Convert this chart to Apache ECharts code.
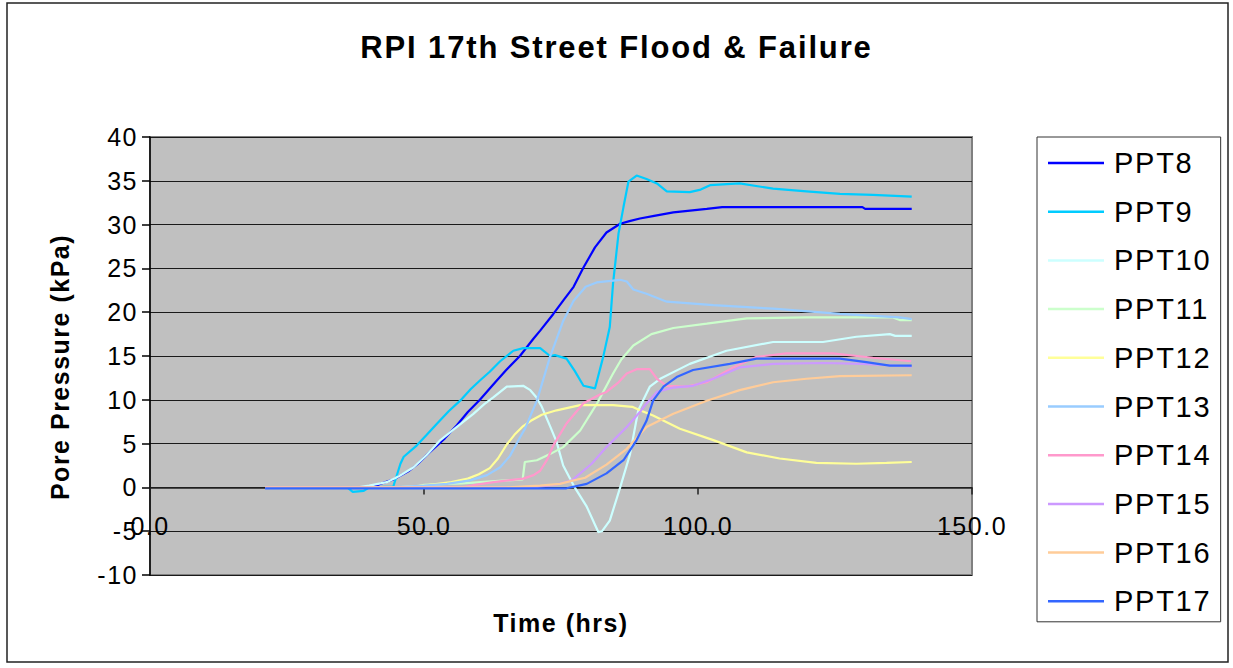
<!DOCTYPE html>
<html>
<head>
<meta charset="utf-8">
<title>RPI 17th Street Flood &amp; Failure</title>
<script src="https://cdn.jsdelivr.net/npm/echarts@6/dist/echarts.min.js"></script>
<style>
  html, body { margin: 0; padding: 0; background: #fff; }
  #main { width: 1233px; height: 668px; }
  /* Office-style text rendering: slightly tracked-out glyphs */
  #main text { letter-spacing: 0.06em; }
</style>
</head>
<body>
<div id="main"></div>
<script>
// Pore pressure (kPa) against time (hrs), one [time, pressure] list per transducer
const ppt8 = [[21,0],[40.5,0],[42,0.4],[44.4,0.9],[47.3,1.9],[48.9,2.7],[51,4.0],[53.8,5.6],[56,7.1],[58,8.6],[60.2,10],[63,12.0],[65,13.4],[67.5,15],[70,17.0],[71.2,17.9],[73.6,19.8],[75.5,21.4],[77.3,22.9],[79.1,25.1],[81.2,27.4],[83.3,29.1],[85.8,30.1],[87.5,30.4],[89.4,30.7],[92,31.0],[95.5,31.4],[101.6,31.8],[104.4,32.0],[130,32.0],[130.5,31.8],[139,31.8]];
const ppt9 = [[21,0],[36,0],[37,-0.5],[39,-0.4],[40,0],[44.4,0.1],[45.7,2.7],[46.3,3.5],[48.7,4.8],[50.5,6.0],[52.4,7.3],[54.5,8.7],[56.6,9.9],[58.5,11.2],[60.2,12.2],[62,13.2],[63.9,14.4],[66.3,15.6],[68.1,15.9],[71.2,15.9],[73,15.0],[73.9,15.1],[76,14.7],[77.5,13.3],[79.1,11.6],[81.2,11.3],[82.7,14.9],[83.9,18.3],[84.5,23.3],[85.5,29],[86.4,32],[87.3,34.9],[88.8,35.6],[90.6,35.2],[92.5,34.7],[94.3,33.8],[98.5,33.7],[100.5,34.0],[102.2,34.5],[107.6,34.7],[113.7,34.1],[119.8,33.8],[125.9,33.5],[131.9,33.4],[139,33.2]];
const ppt10 = [[21,0],[38,0],[40,0.2],[43.2,0.6],[45.5,1.3],[48.1,2.3],[50.5,3.7],[53,5.4],[56,6.9],[59,8.4],[61,9.5],[62.7,10.3],[65.1,11.5],[68.1,11.6],[69.4,11.1],[70.5,10.3],[71.5,9.2],[73,7.0],[74.2,5.2],[75.4,2.5],[77.5,0],[79.7,-2.2],[81.8,-5.1],[82.5,-5.0],[83.9,-3.8],[85.8,0],[87.6,3.8],[89.1,8.8],[91.2,11.5],[93.1,12.4],[98.5,14.1],[105.2,15.6],[113.7,16.6],[122.8,16.6],[128.9,17.2],[135,17.5],[136,17.3],[139,17.3]];
const ppt11 = [[21,0],[48,0],[50,0.3],[57,0.45],[65,0.8],[68,0.9],[68.4,2.9],[70.6,3.1],[73,3.8],[75.4,4.6],[78.5,6.5],[81.5,9.5],[84.5,13.0],[86,14.6],[88.2,16.2],[91.5,17.5],[95.5,18.2],[101.6,18.7],[108.9,19.3],[119.8,19.4],[135.6,19.4],[136.8,19.1],[139,19.1]];
const ppt12 = [[21,0],[45,0],[50,0.2],[55,0.6],[58,1.0],[60,1.5],[62,2.2],[63.5,3.3],[65.1,4.9],[66.5,6.0],[68.1,7.0],[69.5,7.6],[71.5,8.3],[74.2,8.8],[78.5,9.4],[84.5,9.4],[88,9.2],[89.4,8.8],[91.8,8.2],[96.7,6.7],[102.8,5.4],[108.9,4.0],[114.9,3.3],[121.6,2.8],[128.9,2.7],[134.4,2.8],[139,2.9]];
const ppt13 = [[21,0],[44,0],[50,0.2],[54.2,0.4],[58.4,0.8],[61.5,1.4],[63.9,2.3],[65.7,3.6],[67.5,5.7],[68.5,6.8],[70.6,9.9],[73,14.9],[75.4,19.0],[77.3,21.3],[79.5,22.9],[81.5,23.4],[85.8,23.7],[87,23.5],[88.2,22.6],[90.6,22.1],[94.3,21.2],[102.8,20.8],[113.7,20.4],[125.9,19.8],[136.8,19.4],[139,19.2]];
const ppt14 = [[21,0],[57,0],[59,0.25],[62.7,0.6],[68.1,1.0],[70,1.4],[71.2,1.9],[72.5,3.2],[73.6,4.8],[76,7.3],[79.1,9.6],[80.3,10.0],[82.1,10.6],[83.3,10.9],[85.5,12.0],[87,13.0],[88.8,13.5],[91.2,13.5],[92.5,12.4],[94.3,11.6],[97.9,11.5],[101.6,12.0],[106.4,13.7],[110.7,14.9],[116.1,15.3],[124.6,15.3],[131.9,14.8],[138.9,14.4]];
const ppt15 = [[21,0],[70,0],[74,0.3],[77,0.8],[80.6,2.7],[83.3,4.6],[87,6.9],[89.4,8.6],[90.5,9.5],[92.5,10.9],[95.5,11.4],[99.1,11.6],[102.8,12.4],[107.6,13.7],[113.7,14.1],[122.8,14.2],[130,14.1],[139,13.8]];
const ppt16 = [[21,0],[65,0],[71.2,0.2],[74.8,0.4],[76,0.6],[79.4,1.1],[83.3,2.6],[87,4.4],[90.6,6.9],[95.5,8.4],[101.6,9.9],[107.6,11.1],[113.7,12.0],[119.8,12.4],[125.9,12.7],[139,12.8]];
const ppt17 = [[21,-0.1],[76,-0.1],[79.7,0.4],[83.3,1.6],[86.4,3.1],[88.8,5.4],[90.6,7.6],[91.8,9.9],[93.7,11.5],[96.1,12.6],[99.1,13.4],[105.8,14.1],[110.7,14.7],[125.9,14.7],[130.7,14.3],[135,13.9],[139,13.9]];

const seriesNames = ['PPT8','PPT9','PPT10','PPT11','PPT12','PPT13','PPT14','PPT15','PPT16','PPT17'];
const seriesData = [ppt8, ppt9, ppt10, ppt11, ppt12, ppt13, ppt14, ppt15, ppt16, ppt17];
const seriesColors = ['#0000FF','#00CCFF','#CCFFFF','#CCFFCC','#FFFF99','#99CCFF','#FF99CC','#CC99FF','#FFCC99','#3366FF'];

const FONT = '"Liberation Sans", Arial, sans-serif';

const chart = echarts.init(document.getElementById('main'), null, { renderer: 'svg' });

chart.setOption({
  animation: false,
  backgroundColor: '#ffffff',
  textStyle: { fontFamily: FONT, color: '#000' },
  title: {
    text: 'RPI 17th Street Flood & Failure',
    left: 'center',
    top: 27,
    textStyle: { fontFamily: FONT, fontSize: 31, fontWeight: 'bold', color: '#000' }
  },
  graphic: [{
    type: 'rect',
    silent: true,
    z: -10,
    shape: { x: 7, y: 3, width: 1221, height: 659 },
    style: { fill: null, stroke: '#222', lineWidth: 1.5 }
  }],
  legend: {
    orient: 'vertical',
    left: 1037,
    top: 137,
    padding: [11.5, 18, 6, 11],
    itemGap: 19.7,
    itemWidth: 56,
    itemHeight: 2.5,
    icon: 'rect',
    borderColor: '#333',
    borderWidth: 1,
    selectedMode: false,
    data: seriesNames,
    textStyle: { fontFamily: FONT, fontSize: 29, color: '#000', padding: [0, 0, 0, 5] }
  },
  grid: {
    left: 150,
    top: 137,
    right: 261,
    bottom: 93,
    outerBoundsMode: 'none',
    containLabel: false,
    show: true,
    backgroundColor: '#C0C0C0',
    borderColor: '#808080',
    borderWidth: 2
  },
  xAxis: {
    type: 'value',
    min: 0,
    max: 150,
    interval: 50,
    name: 'Time (hrs)',
    nameLocation: 'middle',
    nameGap: 35,
    nameMoveOverlap: false,
    nameTextStyle: { fontFamily: FONT, fontSize: 25, fontWeight: 'bold', color: '#000' },
    axisLine: { show: true, onZero: true, onZeroAxisIndex: 0, lineStyle: { color: '#222', width: 1.5 } },
    axisTick: { show: true, length: 7, lineStyle: { color: '#222', width: 1.5 } },
    axisLabel: { fontFamily: FONT, fontSize: 25, color: '#000', margin: -62, formatter: v => v.toFixed(1) },
    splitLine: { show: false }
  },
  yAxis: {
    type: 'value',
    min: -10,
    max: 40,
    interval: 5,
    name: 'Pore Pressure (kPa)',
    nameLocation: 'middle',
    nameRotate: 90,
    nameGap: 78,
    nameTextStyle: { fontFamily: FONT, fontSize: 25, fontWeight: 'bold', color: '#000', padding: [0, 22, 0, 0] },
    axisLine: { show: true, onZero: false, lineStyle: { color: '#000', width: 1.5 } },
    axisTick: { show: true, length: 8, lineStyle: { color: '#000', width: 1.5 } },
    axisLabel: { fontFamily: FONT, fontSize: 25, color: '#000', margin: 12 },
    splitLine: { show: true, lineStyle: { color: '#1a1a1a', width: 1.2 } }
  },
  series: seriesNames.map((name, i) => ({
    name: name,
    type: 'line',
    data: seriesData[i],
    symbol: 'none',
    showSymbol: false,
    color: seriesColors[i],
    lineStyle: { color: seriesColors[i], width: 2.2 },
    emphasis: { disabled: true }
  }))
});
</script>
</body>
</html>
